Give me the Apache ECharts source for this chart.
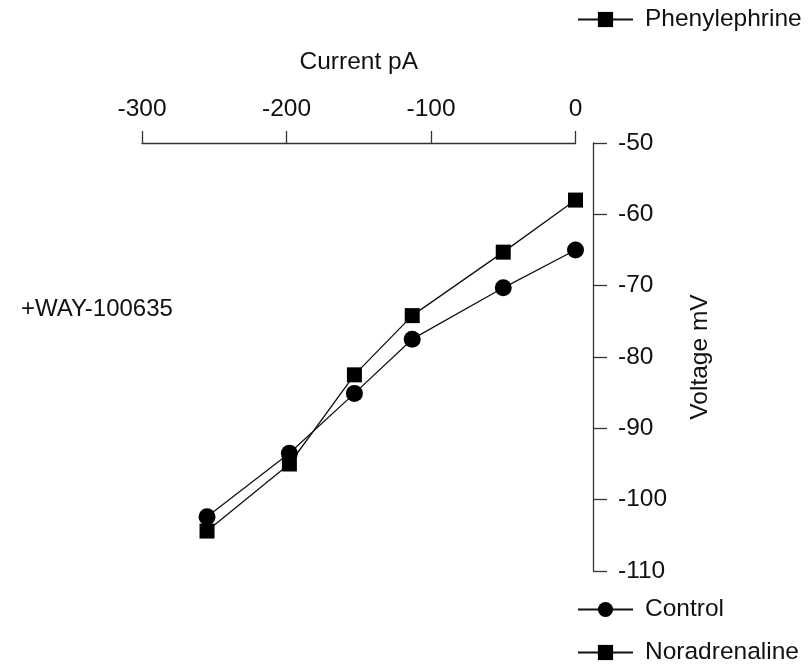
<!DOCTYPE html>
<html>
<head>
<meta charset="utf-8">
<script src="https://cdn.jsdelivr.net/npm/echarts@6/dist/echarts.min.js"></script>
<style>
  html, body { margin: 0; padding: 0; background: #fff; }
  #chart { width: 809px; height: 667px; }
</style>
</head>
<body>
<div id="chart"></div>
<script>
// Current–voltage relation in the presence of WAY-100635
const current = [-255, -198, -153, -113, -50, 0];          // pA
const controlVoltage = [-102.4, -93.5, -85.1, -77.5, -70.3, -65.0];   // mV
const noradrenalineVoltage = [-104.4, -95.0, -82.5, -74.2, -65.3, -58.0]; // mV
const phenylephrineVoltage = [];                          // listed in the key only

const xTicks = { min: -300, max: 0, step: 100 };
const yTicks = { min: -110, max: -50, step: 10 };

const FONT = 'Liberation Sans, Arial, sans-serif';
const FS = 24.5;
const INK = '#111';
const AXIS = '#333';

function pairs(xs, ys) {
  return ys.map((y, i) => [xs[i], y]);
}

const chart = echarts.init(document.getElementById('chart'), null, { renderer: 'canvas' });

const lineSeries = (name, values, symbol, size) => ({
  name: name,
  type: 'line',
  data: pairs(current, values),
  symbol: symbol,
  symbolSize: size,
  color: '#000',
  lineStyle: { color: '#111', width: 1.3 },
  itemStyle: { color: '#000' },
  animation: false,
  z: 3
});

const legendText = { fontFamily: FONT, fontSize: FS, color: INK, padding: [0, 0, 0, 7] };

chart.setOption({
  backgroundColor: '#fff',
  animation: false,
  title: {
    text: '+WAY-100635',
    left: 21,
    top: 297,
    padding: 0,
    textStyle: { fontFamily: FONT, fontSize: 24, fontWeight: 'normal', color: INK }
  },
  legend: [
    {
      data: ['Phenylephrine'],
      orient: 'vertical',
      left: 577,
      top: 7,
      padding: 0,
      itemWidth: 55,
      itemHeight: 19,
      textStyle: legendText,
      selectedMode: false
    },
    {
      data: ['Control', 'Noradrenaline'],
      orient: 'vertical',
      left: 577,
      top: 597,
      height: 90,
      padding: 0,
      itemWidth: 55,
      itemHeight: 19,
      itemGap: 18,
      textStyle: legendText,
      selectedMode: false
    }
  ],
  grid: { left: 142, right: 233.5, top: 143, bottom: 96, containLabel: false },
  xAxis: {
    type: 'value',
    position: 'top',
    min: xTicks.min,
    max: xTicks.max,
    interval: xTicks.step,
    name: 'Current pA',
    nameLocation: 'middle',
    nameGap: 68,
    nameTextStyle: { fontFamily: FONT, fontSize: FS, color: INK },
    axisLine: { show: true, onZero: false, lineStyle: { color: AXIS, width: 1.3 } },
    axisTick: { show: true, inside: false, length: 12, lineStyle: { color: AXIS, width: 1.3 } },
    axisLabel: { fontFamily: FONT, fontSize: FS, color: INK, margin: 21 },
    splitLine: { show: false }
  },
  yAxis: {
    type: 'value',
    position: 'right',
    offset: 17.5,
    min: yTicks.min,
    max: yTicks.max,
    interval: yTicks.step,
    name: 'Voltage mV',
    nameLocation: 'middle',
    nameRotate: 90,
    nameGap: 95,
    nameTextStyle: { fontFamily: FONT, fontSize: FS, color: INK },
    axisLine: { show: true, onZero: false, lineStyle: { color: AXIS, width: 1.3 } },
    axisTick: { show: true, inside: false, length: 14, lineStyle: { color: AXIS, width: 1.3 } },
    axisLabel: { fontFamily: FONT, fontSize: FS, color: INK, margin: 25 },
    splitLine: { show: false }
  },
  series: [
    lineSeries('Control', controlVoltage, 'circle', 17),
    lineSeries('Noradrenaline', noradrenalineVoltage, 'rect', 15),
    lineSeries('Phenylephrine', phenylephrineVoltage, 'rect', 15)
  ]
});
</script>
</body>
</html>
